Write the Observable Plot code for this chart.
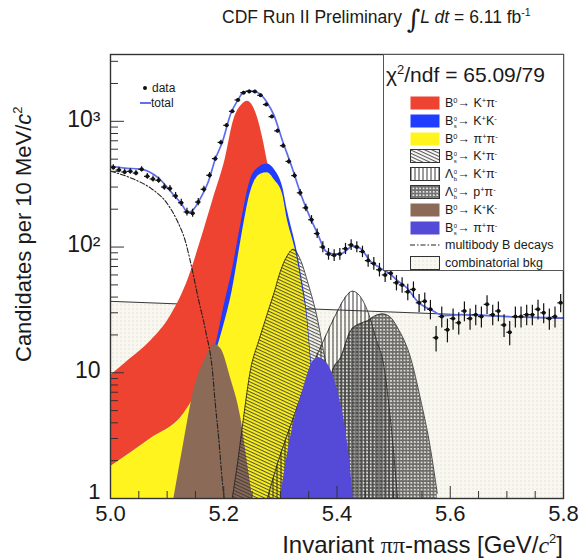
<!DOCTYPE html>
<html><head><meta charset="utf-8">
<script src="https://cdn.jsdelivr.net/npm/d3@7"></script>
<script src="https://cdn.jsdelivr.net/npm/@observablehq/plot@0.6"></script>
<style>
body{margin:0;background:#fff;font-family:"Liberation Sans",Arial,sans-serif;}
#wrap{position:relative;width:583px;height:560px;overflow:hidden;background:#fff}
#chart{position:absolute;left:0;top:0}
.ov{position:absolute;white-space:nowrap;color:#1a1a1a;line-height:1}
.row{position:absolute;left:0;height:14px}
.sw{position:absolute;left:26px;top:0}
.lt{position:absolute;left:61px;top:0;font-size:12.5px;line-height:14px}
.ss{display:inline-block;font-size:6px;line-height:7px;vertical-align:-3px;margin-left:0.5px}
.ss span{display:block;height:7px}
sup{font-size:7.5px;line-height:0;vertical-align:4px}
</style></head><body>
<svg width="0" height="0" style="position:absolute"><defs>
<pattern id="pBkg" width="4" height="4" patternUnits="userSpaceOnUse"><rect width="4" height="4" fill="#f8f7f0"/><circle cx="1" cy="1" r="0.7" fill="#dfddcf"/></pattern>
<pattern id="pDiag" width="3" height="3" patternUnits="userSpaceOnUse" patternTransform="rotate(25)"><line x1="0" y1="0.6" x2="3" y2="0.6" stroke="#333" stroke-width="0.9"/></pattern>
<pattern id="pVert" width="4" height="4" patternUnits="userSpaceOnUse"><line x1="1" y1="0" x2="1" y2="4" stroke="#222" stroke-width="0.9"/></pattern>
<pattern id="pDots" width="3.4" height="3.4" patternUnits="userSpaceOnUse"><circle cx="1.7" cy="1.7" r="1.05" fill="none" stroke="#222" stroke-width="0.95"/></pattern>
</defs></svg>
<div id="wrap">
  <div id="chart"></div>
  <div class="ov" style="left:222px;top:6px;font-size:17.5px;">CDF Run II Preliminary <span style="font-size:26px;vertical-align:-5px;font-family:'DejaVu Serif',serif">∫</span><i>L dt</i> = 6.11 fb<sup style="font-size:10.5px;vertical-align:7px">-1</sup></div>
  <div class="ov" style="left:12px;top:362px;font-size:22px;line-height:24px;transform-origin:left top;transform:rotate(-90deg)">Candidates per 10 MeV/<i>c</i><sup style="font-size:13px;vertical-align:9px">2</sup></div>
  <div class="ov" style="right:20px;top:533px;font-size:24px;">Invariant <span style="font-family:'Liberation Serif',serif">ππ</span>-mass [GeV/<i style="font-family:'Liberation Serif',serif">c</i><sup style="font-size:13px;vertical-align:10px">2</sup>]</div>
  <div class="ov" style="left:143px;top:82px;font-size:12px;"><span style="display:inline-block;width:4px;height:4px;border-radius:2px;background:#111;margin-right:5px;vertical-align:2px"></span>data</div>
  <div class="ov" style="left:140px;top:97px;font-size:12px;"><span style="display:inline-block;width:11px;height:2px;background:#6070ee;vertical-align:3px"></span>total</div>
  <div id="leg" class="ov" style="left:383px;top:54px;width:179px;height:215px;border:1px solid #555;background:#fff">
    <div class="ov" style="left:2px;top:9px;font-size:21px">χ<sup style="font-size:13px;vertical-align:8px">2</sup>/ndf = 65.09/79</div>
  </div>
</div>
<script>
// ---- data: histogram counts per 10 MeV bin (5.00 - 5.80 GeV)
const binLow = 5.0, binWidth = 0.01;
const counts = [430,410,395,400,388,415,365,348,340,300,292,255,225,190,186,228,288,372,505,680,
  930,1200,1480,1690,1730,1725,1610,1360,1090,840,640,480,370,270,205,165,128,100,88,86,
  88,97,104,100,92,78,74,66,60,62,52,50,44,46,36,37,32,19,28,22,
  27,25,31,27,29,28,35,29,31,24,21,28,28,29,29,32,30,27,28,36];

// total fit
const totM = [5.000,5.025,5.053,5.085,5.109,5.125,5.137,5.147,5.159,5.173,5.185,5.198,5.212,5.225,5.235,5.244,5.253,5.265,5.277,5.288,5.304,5.321,5.336,5.350,5.366,5.380,5.394,5.406,5.418,5.427,5.441,5.459,5.477,5.494,5.507,5.524,5.542,5.570,5.588,5.620,5.700,5.800];
const totV = [439,425,416,353,268,222,188,200,245,334,499,694,1137,1480,1700,1745,1730,1637,1400,1137,694,424,264,183,127,93,88,88,95,102,98,77,68,61,54,47,37,31,28.5,29,28,27.3];

// combinatorial background
const bkgM = [5.0, 5.8];
const bkgV = [37, 27];

// multibody B decays
const mbM = [5.000,5.041,5.071,5.101,5.118,5.132,5.141,5.155,5.168,5.180,5.185,5.191,5.198,5.201];
const mbV = [401,347,294,219,161,112,77,39,21.5,10.4,5.7,3.05,1.3,1.0];

// B0 -> K+ pi- (stack top)
const redM = [5.000,5.035,5.071,5.106,5.138,5.159,5.182,5.203,5.217,5.233,5.242,5.251,5.260,5.270,5.277,5.290,5.305,5.325,5.345,5.365,5.385];
const redV = [9.5,12.9,17.9,28.3,56.7,111,245,509,1000,1364,1442,1330,1056,694,481,300,180,70,20,4,1];

// Bs -> K+ K- (stacked on B0 -> pi+ pi-)
const blueM = [5.000,5.071,5.129,5.171,5.189,5.198,5.215,5.230,5.247,5.262,5.277,5.290,5.304,5.313,5.321,5.327,5.337,5.349,5.353,5.365,5.375,5.385];
const blueV = [1.8,3.0,4.7,10.4,19,30,65,150,340,430,457,410,300,190,135,105,60,25,15,5,1.2,1];

// B0 -> pi+ pi-
const yelM = [5.000,5.071,5.129,5.171,5.189,5.198,5.215,5.230,5.247,5.265,5.277,5.290,5.304,5.313,5.321,5.327,5.337,5.349,5.353,5.365,5.375];
const yelV = [1.8,3.0,4.7,10.4,16,22,45,110,270,380,390,340,262,160,118,93,53,22,13,4.2,1.0];

// B0 -> K+ K-
const brM = [5.112,5.129,5.147,5.168,5.183,5.195,5.212,5.230,5.242,5.251];
const brV = [1,2.7,7.2,13.1,16.8,15.5,9.1,4.4,1.9,1];

// Bs -> K- pi+
const bkpM = [5.215,5.225,5.235,5.247,5.262,5.277,5.290,5.300,5.312,5.323,5.335,5.348,5.366,5.376,5.392,5.405,5.420];
const bkpV = [1,2,4.4,10.4,18,29.5,45,64,85,96,80,53,26,15,6.5,2.8,1];

// Lambda_b -> p K-
const lpkM = [5.277,5.295,5.323,5.353,5.376,5.401,5.415,5.427,5.440,5.454,5.470,5.482,5.495,5.507];
const lpkV = [1,1.9,4.4,10.4,17.9,31,40,44.6,41,31,18,11.8,4,1];

// Lambda_b -> p pi-
const lppM = [5.365,5.372,5.380,5.392,5.406,5.424,5.440,5.454,5.468,5.480,5.493,5.507,5.530,5.547,5.565,5.577];
const lppV = [1,2,5,10.4,13.1,21.6,24.5,25.9,28.5,29.4,28,22.8,13.1,6.3,2.5,1.1];

// Bs -> pi+ pi-
const bspM = [5.300,5.318,5.341,5.358,5.367,5.383,5.401,5.419,5.429];
const bspV = [1,3.05,7.6,12.4,13.1,11.8,7.2,2.7,1];

// axes
const xTickLabels = [5.0,5.2,5.4,5.6,5.8];
const xMinor = [5.05,5.1,5.15,5.25,5.3,5.35,5.45,5.5,5.55,5.65,5.7,5.75];
const yTickLabels = [1,10,100,1000];
const yTickText = ["1","10","10²","10³"];
const yMinor = [2,3,4,5,6,7,8,9,20,30,40,50,60,70,80,90,200,300,400,500,600,700,800,900,2000,3000];

// legend
const legendLabels = [
  'B<sup>0</sup>→ K<sup>+</sup>π<sup>-</sup>',
  'B<span class="ss"><span>0</span><span>s</span></span>→ K<sup>+</sup>K<sup>-</sup>',
  'B<sup>0</sup>→ π<sup>+</sup>π<sup>-</sup>',
  'B<span class="ss"><span>0</span><span>s</span></span>→ K<sup>+</sup>π<sup>-</sup>',
  'Λ<span class="ss"><span>0</span><span>b</span></span>→ K<sup>+</sup>π<sup>-</sup>',
  'Λ<span class="ss"><span>0</span><span>b</span></span>→ p<sup>+</sup>π<sup>-</sup>',
  'B<sup>0</sup>→ K<sup>+</sup>K<sup>-</sup>',
  'B<span class="ss"><span>0</span><span>s</span></span>→ π<sup>+</sup>π<sup>-</sup>',
  'multibody B decays',
  'combinatorial bkg'
];
const C = {red:"#ee4330", blue:"#1f3cff", yellow:"#fff41e", brown:"#8b6a58", purple:"#5549d8", total:"#5d6cec"};
const legendFills = [C.red, C.blue, C.yellow, "url(#pDiag)", "url(#pVert)", "url(#pDots)", C.brown, C.purple, "dashdot", "url(#pBkg)"];

const tbl = (M, V) => M.map((m, i) => ({m, v: V[i]}));
const data = counts.map((v, i) => ({m: binLow + binWidth * (i + 0.5), v}));

const W = 583, H = 560, mL = 110, mR = 20, mT = 54, mB = 62;
const fw = W - mL - mR, fh = H - mT - mB;
const area = (M, V, fill, extra = {}) => Plot.areaY(tbl(M, V), {x: "m", y1: 1, y2: "v", fill, curve: "monotone-x", clip: true, ...extra});
const outline = (M, V) => Plot.line(tbl(M, V), {x: "m", y: "v", stroke: "#222", strokeWidth: 0.8, curve: "monotone-x", clip: true});
const yFmt = d => yTickText[yTickLabels.indexOf(d)];

const chart = Plot.plot({
  width: W, height: H, marginLeft: mL, marginRight: mR, marginTop: mT, marginBottom: mB,
  x: {domain: [5.0, 5.8]},
  y: {type: "log", domain: [1, 3400]},
  style: {fontFamily: "Liberation Sans, Arial, sans-serif", color: "#1a1a1a", background: "transparent"},
  marks: [
    area(bkgM, bkgV, "url(#pBkg)", {curve: "linear"}),
    Plot.line(tbl(bkgM, bkgV), {x: "m", y: "v", stroke: "#222", strokeWidth: 0.9}),
    area(redM, redV, C.red),
    area(blueM, blueV, C.blue),
    area(yelM, yelV, C.yellow),
    area(brM, brV, C.brown),
    area(bkpM, bkpV, "url(#pDiag)"), outline(bkpM, bkpV),
    area(lpkM, lpkV, "url(#pVert)"), outline(lpkM, lpkV),
    area(lppM, lppV, "url(#pDots)"), outline(lppM, lppV),
    area(bspM, bspV, C.purple),
    Plot.line(tbl(mbM, mbV), {x: "m", y: "v", stroke: "#222", strokeWidth: 1.1, strokeDasharray: "5,2,1.5,2", curve: "monotone-x", clip: true}),
    Plot.line(tbl(totM, totV), {x: "m", y: "v", stroke: C.total, strokeWidth: 1.7, curve: "monotone-x", clip: true}),
    Plot.ruleX(data, {x: "m", y1: d => Math.max(1, d.v - Math.sqrt(d.v)), y2: d => d.v + Math.sqrt(d.v), stroke: "#111", strokeWidth: 1.2, clip: true}),
    Plot.ruleY(data, {y: "v", x1: d => d.m - binWidth / 2, x2: d => d.m + binWidth / 2, stroke: "#111", strokeWidth: 1.2, clip: true}),
    Plot.dot(data, {x: "m", y: "v", r: 2, fill: "#111", clip: true}),
    Plot.tickY(yMinor, {y: d => d, insetRight: fw - 8, stroke: "#333", strokeWidth: 1}),
    Plot.tickY(yTickLabels, {y: d => d, insetRight: fw - 14, stroke: "#333", strokeWidth: 1}),
    Plot.tickX(xMinor, {x: d => d, insetTop: fh - 7, stroke: "#333", strokeWidth: 1}),
    Plot.tickX(xTickLabels, {x: d => d, insetTop: fh - 12, stroke: "#333", strokeWidth: 1}),
    Plot.axisX({ticks: xTickLabels, tickSize: 0, tickPadding: 7, tickFormat: d => d.toFixed(1), fontSize: 22, label: null}),
    Plot.axisY({ticks: yTickLabels.slice(1), tickSize: 0, tickPadding: 10, dy: -2, tickFormat: yFmt, fontSize: 23, label: null}),
    Plot.axisY({ticks: yTickLabels.slice(0, 1), tickSize: 0, tickPadding: 10, dy: -7, tickFormat: yFmt, fontSize: 22, label: null}),
    Plot.frame({stroke: "#333", strokeWidth: 1.4})
  ]
});
document.getElementById("chart").appendChild(chart);

// legend rows
const leg = document.getElementById("leg");
legendLabels.forEach((lab, i) => {
  const row = document.createElement("div");
  row.className = "row";
  row.style.top = (41 + i * 17.8) + "px";
  row.style.width = "179px";
  const f = legendFills[i];
  let sw;
  if (f === "dashdot") {
    sw = `<svg class="sw" width="30" height="14"><line x1="0" y1="7" x2="30" y2="7" stroke="#222" stroke-width="1.1" stroke-dasharray="5,2,1.5,2"/></svg>`;
  } else {
    const stroke = f.startsWith("url") ? `stroke="#333" stroke-width="1"` : "";
    sw = `<svg class="sw" width="30" height="14"><rect x="0.5" y="0.5" width="29" height="13" fill="${f}" ${stroke}/></svg>`;
  }
  row.innerHTML = sw + `<div class="lt">${lab}</div>`;
  leg.appendChild(row);
});
</script>
</body></html>
